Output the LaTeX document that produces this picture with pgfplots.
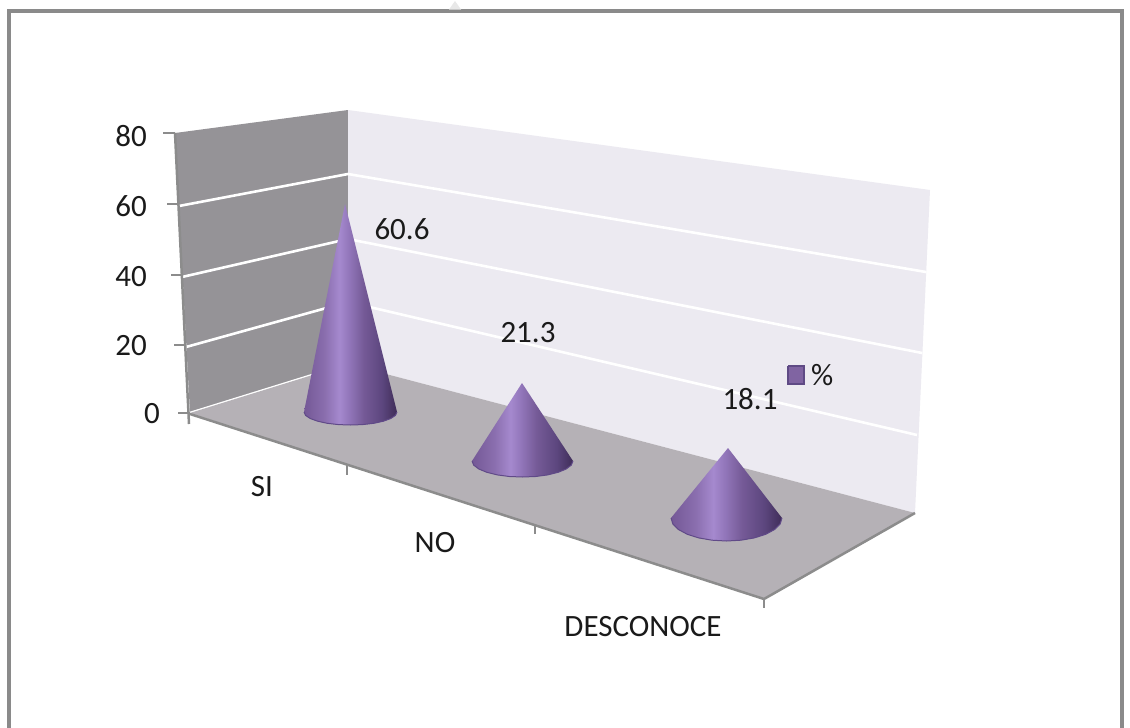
\documentclass[border=0pt]{standalone}
\usepackage{fontspec}
\setmainfont{Carlito}
\usepackage{pgfplots}
\pgfplotsset{compat=1.18}
\definecolor{frameC}{HTML}{8A8A8A}
\definecolor{wallL}{HTML}{959397}
\definecolor{wallB}{HTML}{ECEAF1}
\definecolor{floorC}{HTML}{B5B1B6}
\definecolor{axisC}{HTML}{8C8C8C}
\definecolor{rim}{HTML}{604A88}
\definecolor{keyF}{HTML}{8064A2}
\definecolor{keyE}{HTML}{5F4A85}
\definecolor{txt}{HTML}{1A1A1A}
\definecolor{sa}{HTML}{745896}
\definecolor{sg}{HTML}{8A6EAE}
\definecolor{sb}{HTML}{A589CE}
\definecolor{sc}{HTML}{9377BB}
\definecolor{sd}{HTML}{755A97}
\definecolor{se}{HTML}{5C467E}
\definecolor{sf}{HTML}{3F2D58}
\pgfdeclarehorizontalshading{coneshade}{100bp}{
  color(0bp)=(sa);
  color(25bp)=(sa);
  color(36bp)=(sg);
  color(44bp)=(sb);
  color(49bp)=(sc);
  color(57bp)=(sd);
  color(67bp)=(se);
  color(75bp)=(sf);
  color(100bp)=(sf)}
\begin{document}
\begin{tikzpicture}
\begin{axis}[
  scale only axis, width=1130pt, height=728pt,
  xmin=0, xmax=1130, ymin=0, ymax=728, y dir=reverse,
  axis lines=none, clip=true,
]
% page background
\addplot[draw=none, fill=white] coordinates {(0,0) (1130,0) (1130,728) (0,728) (0,0)};
% page frame
\addplot[draw=frameC, line width=3.2pt] coordinates {(9,728) (9,11) (1122,11) (1122,728)};
\addplot[draw=none, fill=black!9] coordinates {(449,9.5) (455,1) (461,9.5) (449,9.5)};
% walls
\addplot[draw=none, fill=wallL] coordinates {(175,133) (348,110) (348,364) (190,413) (175,133)};
\addplot[draw=none, fill=wallB] coordinates {(348,110) (930,190) (915,513) (348,364) (348,110)};
% gridlines: 60, 40, 20, 0 on the left wall; 60, 40, 20 on the back wall
\addplot[draw=white, line width=2.6pt] coordinates {(179,206) (348,174) (926,272)};
\addplot[draw=white, line width=2.6pt] coordinates {(182,277) (348,239) (922,353)};
\addplot[draw=white, line width=2.6pt] coordinates {(186,347) (348,302) (917,435)};
\addplot[draw=white, line width=2.6pt] coordinates {(190,413) (348,364)};
% floor
\addplot[draw=none, fill=floorC] coordinates {(190,413) (348,364) (915,513) (764,599) (190,413)};
% axes and ticks
\addplot[draw=axisC, line width=2.5pt] coordinates {(175,133) (189,424)};
\addplot[draw=axisC, line width=2.5pt] coordinates {(163,133) (175,133)};
\addplot[draw=axisC, line width=2.5pt] coordinates {(167,204) (179,204)};
\addplot[draw=axisC, line width=2.5pt] coordinates {(171,275) (182,275)};
\addplot[draw=axisC, line width=2.5pt] coordinates {(174,345) (186,345)};
\addplot[draw=axisC, line width=2.5pt] coordinates {(178,413) (190,413)};
\addplot[draw=axisC, line width=2.5pt] coordinates {(190,414) (764,599) (915,513)};
\addplot[draw=axisC, line width=2.5pt] coordinates {(347,464) (347,475)};
\addplot[draw=axisC, line width=2.5pt] coordinates {(535,526) (535,534)};
\addplot[draw=axisC, line width=2.5pt] coordinates {(764,599) (764,608)};
% cone SI = 60.6
\addplot[draw=none, shading=coneshade] coordinates {(345,204) (397,412) (395.4,415.4) (390.8,418.5) (383.4,421.2) (373.8,423.3) (362.5,424.6) (350.5,425) (338.5,424.6) (327.2,423.3) (317.6,421.2) (310.2,418.5) (305.6,415.4) (304,412) (345,204)};
\addplot[draw=rim, line width=1pt] coordinates {(397,412) (395.4,415.4) (390.8,418.5) (383.4,421.2) (373.8,423.3) (362.5,424.6) (350.5,425) (338.5,424.6) (327.2,423.3) (317.6,421.2) (310.2,418.5) (305.6,415.4) (304,412)};
% cone NO = 21.3
\addplot[draw=none, shading=coneshade] coordinates {(522,383) (573,461) (571.3,465.1) (566.2,469) (558.2,472.3) (547.8,474.9) (535.6,476.5) (522.5,477) (509.4,476.5) (497.2,474.9) (486.8,472.3) (478.8,469) (473.7,465.1) (472,461) (522,383)};
\addplot[draw=rim, line width=1pt] coordinates {(573,461) (571.3,465.1) (566.2,469) (558.2,472.3) (547.8,474.9) (535.6,476.5) (522.5,477) (509.4,476.5) (497.2,474.9) (486.8,472.3) (478.8,469) (473.7,465.1) (472,461)};
% cone DESCONOCE = 18.1
\addplot[draw=none, shading=coneshade] coordinates {(728,448) (782,518) (780.1,524) (774.6,529.5) (765.7,534.3) (754.3,537.9) (740.9,540.2) (726.5,541) (712.1,540.2) (698.7,537.9) (687.3,534.3) (678.4,529.5) (672.9,524) (671,518) (728,448)};
\addplot[draw=rim, line width=1pt] coordinates {(782,518) (780.1,524) (774.6,529.5) (765.7,534.3) (754.3,537.9) (740.9,540.2) (726.5,541) (712.1,540.2) (698.7,537.9) (687.3,534.3) (678.4,529.5) (672.9,524) (671,518)};
% legend key
\addplot[draw=keyE, fill=keyF, line width=2.2pt] coordinates {(788,366) (804,366) (804,384) (788,384) (788,366)};
% text
\tikzset{lab/.style={text=txt, inner sep=0pt, font=\fontsize{31}{34}\selectfont}}
\node[lab, anchor=east] at (axis cs:147,136) {80};
\node[lab, anchor=east] at (axis cs:147,206) {60};
\node[lab, anchor=east] at (axis cs:147,277) {40};
\node[lab, anchor=east] at (axis cs:147,346) {20};
\node[lab, anchor=east] at (axis cs:160,414) {0};
\node[lab] at (axis cs:262,487) {SI};
\node[lab] at (axis cs:435,543) {NO};
\node[lab] at (axis cs:643,627) {DESCONOCE};
\node[lab] at (axis cs:402,229) {60.6};
\node[lab] at (axis cs:528,333) {21.3};
\node[lab] at (axis cs:750,399) {18.1};
\node[lab, anchor=west] at (axis cs:811,375) {\%};
\end{axis}
\end{tikzpicture}
\end{document}
